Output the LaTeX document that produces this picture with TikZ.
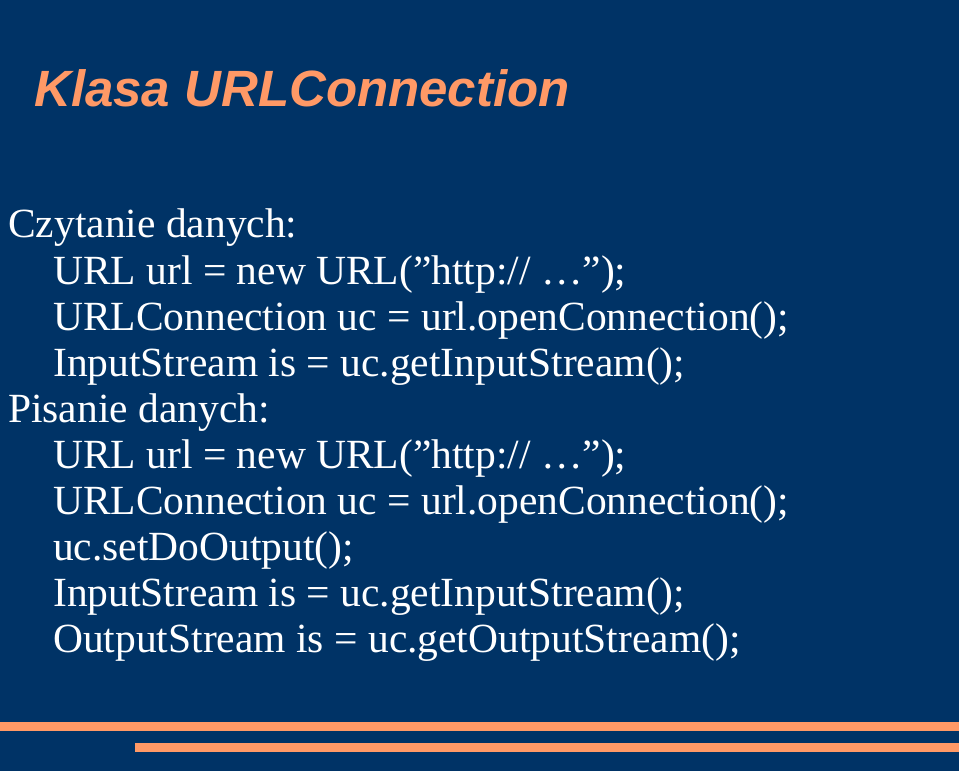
\documentclass[tikz,border=0pt]{standalone}
\usepackage{fontspec}
\setmainfont{Liberation Serif}[Ligatures=NoCommon]
\newfontfamily\titlefont{Liberation Sans}
\definecolor{bg}{RGB}{0,51,102}
\definecolor{org}{RGB}{255,153,102}
\newcommand{\dq}{{\char34}}
\begin{document}
\begin{tikzpicture}[x=1pt,y=-1pt,
  body/.style={anchor=base west,inner sep=0pt,text=white,font=\fontsize{41.5}{44}\selectfont}]
\fill[bg] (0,0) rectangle (959,771);
\useasboundingbox (0,0) rectangle (959,771);
\node[anchor=base west,inner sep=0pt,text=org,font=\titlefont\bfseries\itshape\fontsize{51}{54}\selectfont] (title) at (34,106) {Klasa URLConnection};
\node[body] (l1) at (8,237) {Czytanie danych:};
\node[body] (l2) at (53,284) {URL url = new URL(\dq http:// \ldots\dq);};
\node[body] (l3) at (53,330) {URLConnection uc = url.openConnection();};
\node[body] (l4) at (53,376) {InputStream is = uc.getInputStream();};
\node[body] (l5) at (8,422) {Pisanie danych:};
\node[body] (l6) at (53,468) {URL url = new URL(\dq http:// \ldots\dq);};
\node[body] (l7) at (53,514) {URLConnection uc = url.openConnection();};
\node[body] (l8) at (53,560) {uc.setDoOutput();};
\node[body] (l9) at (53,606) {InputStream is = uc.getInputStream();};
\node[body] (l10) at (53,652) {OutputStream is = uc.getOutputStream();};
\fill[org] (0,722) rectangle (959,731);
\fill[org] (135,743) rectangle (959,752);
\end{tikzpicture}
\end{document}
